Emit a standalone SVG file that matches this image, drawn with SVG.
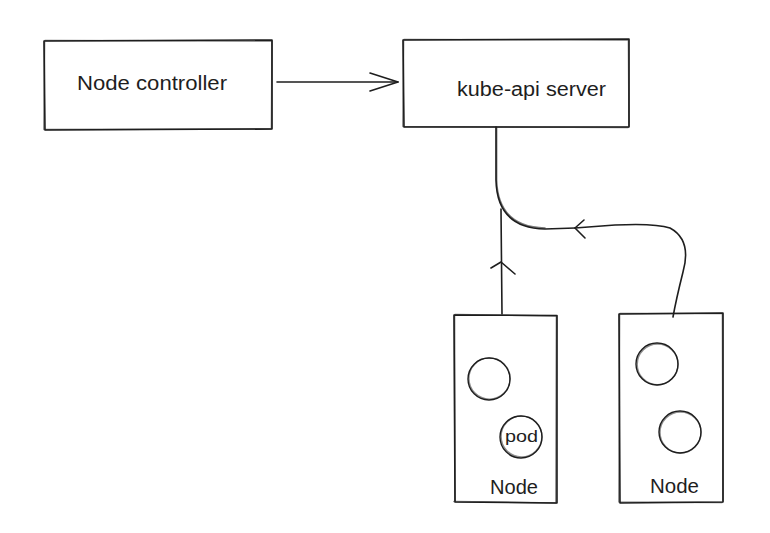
<svg xmlns="http://www.w3.org/2000/svg" width="770" height="533" viewBox="0 0 770 533">
  <style>
    .box { fill: none; stroke: #1e1e1e; stroke-width: 1.6; stroke-linejoin: round; stroke-linecap: round; }
    .pod { fill: none; stroke: #1e1e1e; stroke-width: 1.4; }
    .wire { fill: none; stroke: #1e1e1e; stroke-width: 1.6; stroke-linecap: round; stroke-linejoin: round; }
    .label { font-family: "Liberation Sans", "DejaVu Sans", sans-serif; font-size: 20px; fill: #1e1e1e; }
    .small { font-family: "Liberation Sans", "DejaVu Sans", sans-serif; font-size: 17px; fill: #1e1e1e; }
  </style>
  <rect width="770" height="533" fill="#ffffff"/>

  <g id="node-controller">
    <path class="box" d="M44,41 L272,40 L272,129 L45,130 Z"/>
    <path class="box" d="M45,40.5 L271,41 M272,41 L271.5,128 M44,129.5 L271,129 M44.5,42 L44,129" stroke-opacity="0.6"/>
    <text class="label" x="77" y="90" textLength="150" lengthAdjust="spacingAndGlyphs">Node controller</text>
  </g>

  <g id="kube-api-server">
    <path class="box" d="M403,40 L629,39 L629,127 L404,127 Z"/>
    <path class="box" d="M404,39.5 L628,40 M628.5,40 L629,126 M403,126.5 L628,127.5 M403.5,41 L403,126" stroke-opacity="0.6"/>
    <text class="label" x="457" y="96" textLength="149" lengthAdjust="spacingAndGlyphs">kube-api server</text>
  </g>

  <g id="node-1">
    <path class="box" d="M454,315 L557,315.5 L557,503 L455,502 Z"/>
    <path class="box" d="M455,314.5 L556,316 M556.5,316 L556,502 M454,501.5 L556,503 M454.5,316 L455,501" stroke-opacity="0.6"/>
    <circle class="pod" cx="489" cy="379" r="21"/>
    <circle class="pod" cx="489.5" cy="378.5" r="20.6" stroke-opacity="0.5"/>
    <circle class="pod" cx="521" cy="437" r="21"/>
    <circle class="pod" cx="521.5" cy="436.5" r="20.4" stroke-opacity="0.5"/>
    <text class="small" x="505" y="442" textLength="33" lengthAdjust="spacingAndGlyphs">pod</text>
    <text class="label" x="490" y="494" textLength="48" lengthAdjust="spacingAndGlyphs">Node</text>
  </g>

  <g id="node-2">
    <path class="box" d="M619,314 L723,313 L723,502 L620,503 Z"/>
    <path class="box" d="M620,313.5 L722,313.5 M722.5,314 L723,501 M619,502 L722,502.5 M619.5,315 L619,502" stroke-opacity="0.6"/>
    <circle class="pod" cx="657" cy="364" r="21"/>
    <circle class="pod" cx="657.6" cy="364.4" r="20.4" stroke-opacity="0.5"/>
    <circle class="pod" cx="680" cy="432" r="21"/>
    <circle class="pod" cx="680.5" cy="432.5" r="20.5" stroke-opacity="0.5"/>
    <text class="label" x="650" y="493" textLength="49" lengthAdjust="spacingAndGlyphs">Node</text>
  </g>

  <g id="connectors">
    <!-- controller to api server -->
    <path class="wire" d="M277,82 L398,82"/>
    <path class="wire" d="M370,73 L398,82 L370,91"/>
    <!-- api server down, turning toward node 2 -->
    <path class="wire" d="M496,127 L496,180 Q497,228 545,229 L575,228"/>
    <path class="wire" d="M496.6,128 L496.6,180 Q498,227 545,228" stroke-opacity="0.6"/>
    <!-- node 2 up to the shared trunk -->
    <path class="wire" d="M673,317 Q676,300 683,272 Q692,240 670,228 Q655,223 615,225 L575,228"/>
    <path class="wire" d="M584,220 L575,228 L585,238"/>
    <!-- node 1 up to the shared trunk -->
    <path class="wire" d="M502,314 L501,209"/>
    <path class="wire" d="M491,268 L501,262 L515,274"/>
  </g>
</svg>
